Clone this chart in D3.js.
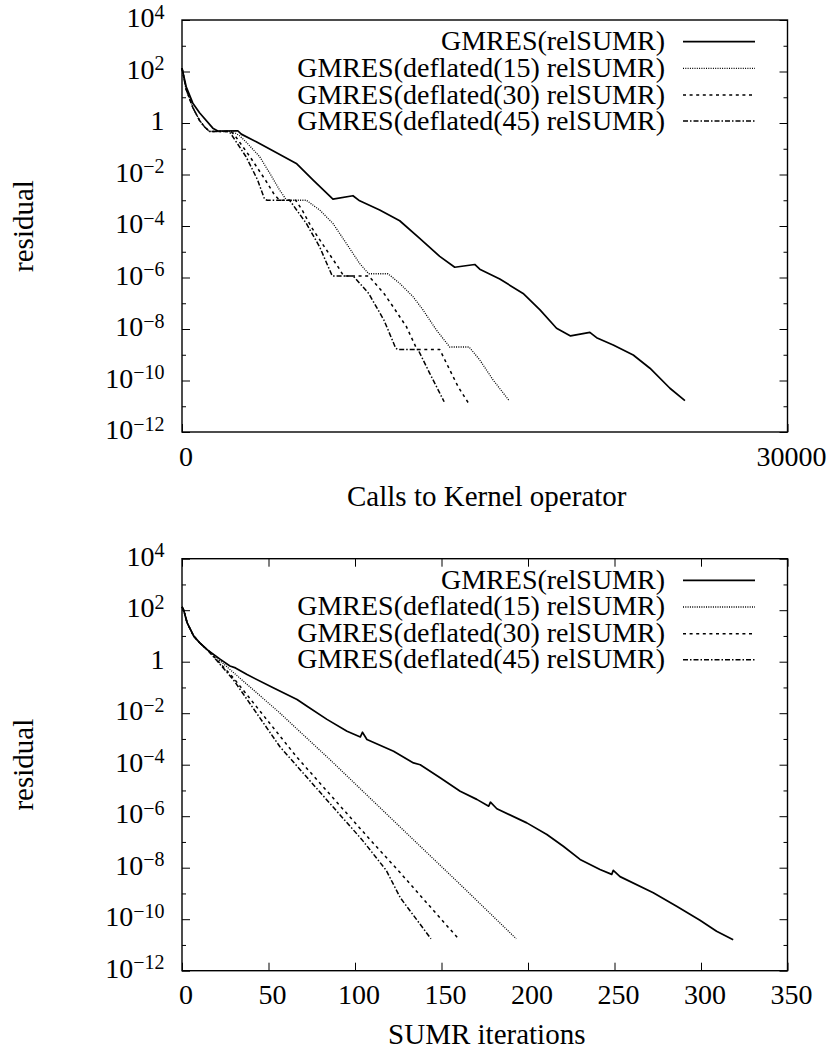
<!DOCTYPE html>
<html>
<head>
<meta charset="utf-8">
<script src="https://cdn.jsdelivr.net/npm/d3@7"></script>
<style>
  body { margin: 0; background: #fff; }
  svg { display: block; }
  svg text { font-family: "Liberation Serif", "DejaVu Serif", "Times New Roman", Times, serif; }
  .tick line { stroke: #000; stroke-width: 1; }
</style>
</head>
<body>
<div id="chart"></div>
<script>
// legend names, same for both panels
const seriesNames = [
  "GMRES(relSUMR)",
  "GMRES(deflated(15) relSUMR)",
  "GMRES(deflated(30) relSUMR)",
  "GMRES(deflated(45) relSUMR)"
];

// y axis: decades 1e-12 .. 1e4, labels on even powers
const majorPowers = [-12, -10, -8, -6, -4, -2, 0, 2, 4];
const minorPowers = [-11, -9, -7, -5, -3, -1, 1, 3];

// top panel: [calls to kernel operator, residual]
const topTicks = [0, 30000];
const topPlain = [[0,135],[208,25.7],[536,5.9],[868,2.5],[1527,0.63],[1775,0.49],[2767,0.5],[2936,0.37],[3680,0.186],[4503,0.083],[5663,0.027],[6486,6.2e-3],[7478,1.1e-3],[8470,1.5e-3],[8802,9.5e-4],[9794,4.2e-4],[10786,1.6e-4],[11777,3.3e-5],[12769,6.6e-6],[13513,2.5e-6],[14505,3.2e-6],[14753,2.1e-6],[15745,8.7e-7],[16900,2.4e-7],[17737,5.5e-8],[18557,1.07e-8],[19251,5.4e-9],[20208,7.4e-9],[20540,4.6e-9],[21364,2.4e-9],[22356,9.8e-10],[23184,3.0e-10],[24175,5.0e-11],[24919,1.66e-11]];
const topDefl15 = [[0,135],[208,20],[536,4.0],[868,1.26],[1116,0.71],[1364,0.47],[2519,0.47],[2851,0.32],[3184,0.18],[3843,0.05],[4339,0.0115],[4835,2.5e-3],[5182,1.0e-3],[6159,1.0e-3],[6819,4.2e-4],[7478,1.26e-4],[8143,2.1e-5],[8802,3.5e-6],[9249,1.4e-6],[10206,1.4e-6],[10786,5.9e-7],[11445,1.8e-7],[11941,5.5e-8],[12606,9.1e-9],[13265,2.0e-9],[14222,2.0e-9],[14753,6.3e-10],[15413,1.05e-10],[16206,1.66e-11]];
const topDefl30 = [[0,135],[208,20],[536,4.0],[868,1.26],[1116,0.71],[1364,0.47],[2430,0.47],[2603,0.34],[3367,0.049],[4126,6.2e-3],[4587,1.6e-3],[4835,1.0e-3],[5629,1.0e-3],[5950,4.2e-4],[6402,9.3e-5],[7161,1.17e-5],[7731,2.6e-6],[8009,1.15e-6],[9249,1.15e-6],[10007,2.4e-7],[10454,7.4e-8],[11118,1.23e-8],[11614,1.8e-9],[11679,1.6e-9],[12770,1.6e-9],[13102,4.7e-10],[13677,5.8e-11],[14173,1.4e-11]];
const topDefl45 = [[0,135],[208,20],[536,4.0],[868,1.26],[1116,0.71],[1364,0.47],[2306,0.47],[2405,0.4],[3174,0.049],[3744,6.2e-3],[4091,1.1e-3],[4220,1.0e-3],[5331,1.0e-3],[6159,1.26e-4],[6819,1.55e-5],[7443,1.15e-6],[8480,1.15e-6],[9249,2.4e-7],[10007,2.2e-8],[10588,1.8e-9],[10687,1.6e-9],[11693,1.6e-9],[12274,1.9e-10],[12988,1.5e-11]];

// bottom panel: [SUMR iterations, residual]
const botTicks = [0, 50, 100, 150, 200, 250, 300, 350];
const botPlain = [[0,135],[1,100],[3,32],[6.8,9.8],[10,5.6],[14.5,2.95],[22.2,1.23],[27.7,0.68],[30.9,0.575],[37.6,0.316],[53,0.095],[66.5,0.034],[72.3,0.0186],[83.8,5.75e-3],[95.4,2.0e-3],[103.1,1.2e-3],[104.3,1.82e-3],[106.9,9.5e-4],[122.3,3.3e-4],[133.8,1.17e-4],[137.7,1.0e-4],[149.2,3.1e-5],[160.8,9.3e-6],[170.4,4.5e-6],[177.3,2.45e-6],[178.3,3.5e-6],[182,1.95e-6],[199.3,5.5e-7],[210.9,1.95e-7],[220.4,6.8e-8],[230.1,2.1e-8],[241.6,8.5e-9],[248.4,5.5e-9],[249.3,7.9e-9],[253.2,4.5e-9],[272.4,1.07e-9],[285.9,3.2e-10],[299.4,9.1e-11],[309,3.4e-11],[318.6,1.6e-11]];
const botDefl15 = [[0,135],[1,100],[3,32],[6.8,9.8],[10,5.6],[14.5,2.95],[16.5,2.3],[27.7,0.5],[56,0.011],[85.5,1.58e-4],[133.7,1.23e-7],[160.8,2.24e-9],[193.2,1.74e-11]];
const botDefl30 = [[0,135],[1,100],[3,32],[6.8,9.8],[10,5.6],[14.5,2.95],[16.5,2.2],[29.6,0.24],[66.3,2.0e-4],[108.7,1.23e-7],[126.2,6.3e-9],[159.8,1.74e-11]];
const botDefl45 = [[0,135],[1,100],[3,32],[6.8,9.8],[10,5.6],[14.5,2.95],[16.5,2.1],[29.6,0.204],[56.6,5.0e-4],[104,1.23e-7],[118,8.0e-9],[126.2,6.8e-10],[143.9,1.74e-11]];

const W = 828, H = 1053;
const LEFT = 182, RIGHT = 787.5, PH = 412;
const FONT = 28;
const SERIF = "Liberation Serif, DejaVu Serif, Times New Roman, serif";

// line styles, in legend order
const styles = [
  { width: 1.7, dash: null },
  { width: 1.3, dash: "1,1.3" },
  { width: 1.5, dash: "3,3.6" },
  { width: 1.5, dash: "5,2,1.5,2" }
];

const svg = d3.select("#chart").append("svg")
  .attr("width", W)
  .attr("height", H)
  .attr("viewBox", `0 0 ${W} ${H}`)
  .attr("font-family", SERIF);

function drawPanel(p) {
  const g = svg.append("g").attr("transform", `translate(0,${p.top})`);

  const x = d3.scaleLinear().domain(p.xDomain).range([LEFT, RIGHT]);
  const y = d3.scaleLog().domain([1e-12, 1e4]).range([PH, 0]);

  // y ticks, left and right, pointing inward
  const tickAxis = (axis, tx, vals, len) =>
    g.append("g")
      .attr("transform", `translate(${tx},0)`)
      .call(axis(y).tickValues(vals.map(e => Math.pow(10, e))).tickSizeInner(-len).tickSizeOuter(0).tickFormat(""))
      .call(a => a.select(".domain").remove());

  tickAxis(d3.axisLeft, LEFT, majorPowers, 8);
  tickAxis(d3.axisLeft, LEFT, minorPowers, 4);
  tickAxis(d3.axisRight, RIGHT, majorPowers, 8);
  tickAxis(d3.axisRight, RIGHT, minorPowers, 4);

  // x ticks
  g.append("g")
    .attr("transform", `translate(0,${PH})`)
    .call(d3.axisBottom(x).tickValues(p.xTicks).tickSizeInner(-8).tickSizeOuter(0).tickFormat(""))
    .call(a => a.select(".domain").remove());
  if (p.mirrorX) {
    g.append("g")
      .call(d3.axisTop(x).tickValues(p.xTicks).tickSizeInner(-8).tickSizeOuter(0).tickFormat(""))
      .call(a => a.select(".domain").remove());
  }

  // y tick labels with superscript exponents
  g.selectAll("text.ylab")
    .data(majorPowers)
    .join("text")
    .attr("class", "ylab")
    .attr("font-family", SERIF)
    .attr("x", LEFT - 17.5)
    .attr("y", d => y(Math.pow(10, d)) + 7)
    .attr("text-anchor", "end")
    .attr("font-size", FONT)
    .each(function (d) {
      const t = d3.select(this);
      if (d === 0) { t.text("1"); return; }
      t.append("tspan").text("10");
      t.append("tspan")
        .attr("dy", -8.5)
        .attr("font-size", 20)
        .text(d < 0 ? "\u2212" + Math.abs(d) : String(d));
    });

  // x tick labels
  g.selectAll("text.xlab")
    .data(p.xTicks)
    .join("text")
    .attr("class", "xlab")
    .attr("font-family", SERIF)
    .attr("x", d => x(d) + 4)
    .attr("y", PH + 33.5)
    .attr("text-anchor", "middle")
    .attr("font-size", FONT)
    .text(d => d);

  // axis titles
  g.append("text")
    .attr("font-family", SERIF)
    .attr("x", (LEFT + RIGHT) / 2 + 2)
    .attr("y", PH + 73.7)
    .attr("text-anchor", "middle")
    .attr("font-size", 29)
    .text(p.xLabel);

  g.append("text")
    .attr("font-family", SERIF)
    .attr("transform", `translate(33,${PH / 2}) rotate(-90)`)
    .attr("text-anchor", "middle")
    .attr("font-size", 29)
    .text("residual");

  // curves
  const line = d3.line().x(d => x(d[0])).y(d => y(d[1]));
  g.selectAll("path.curve")
    .data(p.series)
    .join("path")
    .attr("class", "curve")
    .attr("fill", "none")
    .attr("stroke", "#000")
    .attr("stroke-linejoin", "round")
    .attr("stroke-width", (d, i) => styles[i].width)
    .attr("stroke-dasharray", (d, i) => styles[i].dash)
    .attr("d", line);

  // legend
  const rows = [21.7, 48.3, 75, 101];
  const lg = g.append("g");
  lg.selectAll("text")
    .data(seriesNames)
    .join("text")
    .attr("font-family", SERIF)
    .attr("x", 665)
    .attr("y", (d, i) => rows[i] + 8.5)
    .attr("text-anchor", "end")
    .attr("font-size", FONT)
    .text(d => d);
  lg.selectAll("line")
    .data(seriesNames)
    .join("line")
    .attr("x1", 683)
    .attr("x2", 755)
    .attr("y1", (d, i) => rows[i])
    .attr("y2", (d, i) => rows[i])
    .attr("stroke", "#000")
    .attr("stroke-width", (d, i) => styles[i].width)
    .attr("stroke-dasharray", (d, i) => styles[i].dash);

  // frame
  g.append("rect")
    .attr("x", LEFT)
    .attr("y", 0)
    .attr("width", RIGHT - LEFT)
    .attr("height", PH)
    .attr("fill", "none")
    .attr("stroke", "#000")
    .attr("stroke-width", 1.4);
}

drawPanel({
  top: 20,
  xDomain: [0, 30000],
  xTicks: topTicks,
  xLabel: "Calls to Kernel operator",
  series: [topPlain, topDefl15, topDefl30, topDefl45],
  mirrorX: false
});

drawPanel({
  top: 558.7,
  xDomain: [0, 350],
  xTicks: botTicks,
  xLabel: "SUMR iterations",
  series: [botPlain, botDefl15, botDefl30, botDefl45],
  mirrorX: true
});
</script>
</body>
</html>
